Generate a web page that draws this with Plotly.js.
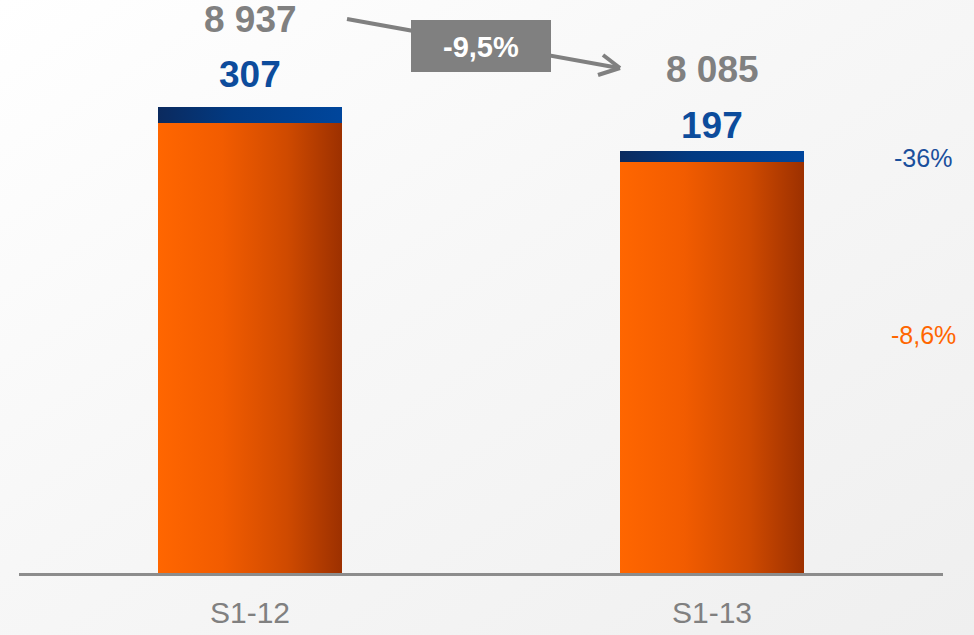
<!DOCTYPE html>
<html>
<head>
<meta charset="utf-8">
<script src="https://cdn.plot.ly/plotly-3.0.1.min.js"></script>
<style>
  html, body { margin: 0; padding: 0; }
  body { background: linear-gradient(to bottom right, #ffffff 0%, #f7f7f7 45%, #efefef 100%); }
  #chart { width: 974px; height: 635px; }
</style>
</head>
<body>
<div id="chart"></div>
<script>
// ---- data ----
const categories = ['S1-12', 'S1-13'];
const baseValues = [8630, 7888];      // orange segment
const topValues = [307, 197];         // blue segment
const totalLabels = ['8 937', '8 085'];
const topLabels = ['307', '197'];
const totalChangeLabel = '-9,5%';
const topChangeLabel = '-36%';
const baseChangeLabel = '-8,6%';

// ---- layout helpers ----
const W = 974, H = 635;
const M = { l: 19, r: 31, t: 0, b: 62 };
const PW = W - M.l - M.r, PH = H - M.t - M.b;
const px = x => (x - M.l) / PW;
const py = y => (H - M.b - y) / PH;

const totals = baseValues.map((v, i) => v + topValues[i]);

const GRAY = '#808080';
const BLUE = '#0d4c9c';
const ORANGE = '#ff6600';
const FONT = 'Liberation Sans, Arial, sans-serif';

const traces = [
  { type: 'bar', x: categories, y: baseValues, width: 0.4, marker: { color: '#e35400', line: { width: 0 } }, hoverinfo: 'skip' },
  { type: 'bar', x: categories, y: topValues, width: 0.4, marker: { color: '#003a88', line: { width: 0 } }, hoverinfo: 'skip' }
];

const totalShift = [88, 82];
const topShift = [33, 26];
const annotations = [];
categories.forEach((c, i) => {
  annotations.push({ x: c, y: totals[i], xref: 'x', yref: 'y', text: '<b>' + totalLabels[i] + '</b>', showarrow: false,
    yanchor: 'middle', yshift: totalShift[i], font: { family: FONT, size: 37, color: GRAY } });
  annotations.push({ x: c, y: totals[i], xref: 'x', yref: 'y', text: '<b>' + topLabels[i] + '</b>', showarrow: false,
    yanchor: 'middle', yshift: topShift[i], font: { family: FONT, size: 37, color: BLUE } });
});
annotations.push({ x: px(481), y: py(47), xref: 'paper', yref: 'paper', text: '<b>' + totalChangeLabel + '</b>', showarrow: false,
  xanchor: 'center', yanchor: 'middle', font: { family: FONT, size: 29, color: '#ffffff' } });
annotations.push({ x: px(923), y: py(158), xref: 'paper', yref: 'paper', text: topChangeLabel, showarrow: false,
  xanchor: 'center', yanchor: 'middle', font: { family: FONT, size: 25, color: '#1a4f9c' } });
annotations.push({ x: px(923), y: py(335), xref: 'paper', yref: 'paper', text: baseChangeLabel, showarrow: false,
  xanchor: 'center', yanchor: 'middle', font: { family: FONT, size: 25, color: ORANGE } });

const lineStyle = { color: GRAY, width: 4 };
const shapes = [
  { type: 'line', xref: 'paper', yref: 'paper', x0: px(347), y0: py(19), x1: px(619), y1: py(68), line: lineStyle, layer: 'above' },
  { type: 'line', xref: 'paper', yref: 'paper', x0: px(603), y0: py(55), x1: px(620), y1: py(68), line: lineStyle, layer: 'above' },
  { type: 'line', xref: 'paper', yref: 'paper', x0: px(598), y0: py(75), x1: px(620), y1: py(68), line: lineStyle, layer: 'above' },
  { type: 'rect', xref: 'paper', yref: 'paper', x0: px(411), y0: py(20), x1: px(551), y1: py(72), fillcolor: GRAY, line: { width: 0 }, layer: 'above' }
];

const layout = {
  width: W, height: H,
  margin: M,
  paper_bgcolor: 'rgba(0,0,0,0)',
  plot_bgcolor: 'rgba(0,0,0,0)',
  barmode: 'stack',
  showlegend: false,
  xaxis: {
    type: 'category', range: [-0.5, 1.5], showgrid: false, zeroline: false,
    showline: true, linecolor: '#8c8c8c', linewidth: 2.5, ticks: '', ticklabelstandoff: 11,
    tickfont: { family: FONT, size: 30, color: GRAY }, fixedrange: true
  },
  yaxis: { range: [0, 10989], visible: false, showgrid: false, zeroline: false, fixedrange: true },
  annotations: annotations,
  shapes: shapes
};

Plotly.newPlot('chart', traces, layout, { displayModeBar: false, staticPlot: true }).then(gd => {
  const svg = gd.querySelector('.main-svg');
  const NS = 'http://www.w3.org/2000/svg';
  const defs = document.createElementNS(NS, 'defs');
  const mk = (id, stops) => {
    const g = document.createElementNS(NS, 'linearGradient');
    g.setAttribute('id', id);
    g.setAttribute('x1', '0'); g.setAttribute('y1', '0'); g.setAttribute('x2', '1'); g.setAttribute('y2', '0');
    stops.forEach(([o, c]) => {
      const s = document.createElementNS(NS, 'stop');
      s.setAttribute('offset', o); s.setAttribute('stop-color', c);
      g.appendChild(s);
    });
    defs.appendChild(g);
  };
  mk('gradOrange', [['0', '#ff6600'], ['0.35', '#f25c00'], ['0.7', '#cf4a00'], ['1', '#9c3000']]);
  mk('gradBlue', [['0', '#0b2a5e'], ['0.4', '#023a82'], ['1', '#00469c']]);
  svg.insertBefore(defs, svg.firstChild);
  const tr = gd.querySelectorAll('.barlayer .trace');
  const ids = ['gradOrange', 'gradBlue'];
  tr.forEach((t, i) => {
    t.querySelectorAll('path').forEach(p => { p.style.fill = 'url(#' + ids[i] + ')'; });
  });
});
</script>
</body>
</html>
